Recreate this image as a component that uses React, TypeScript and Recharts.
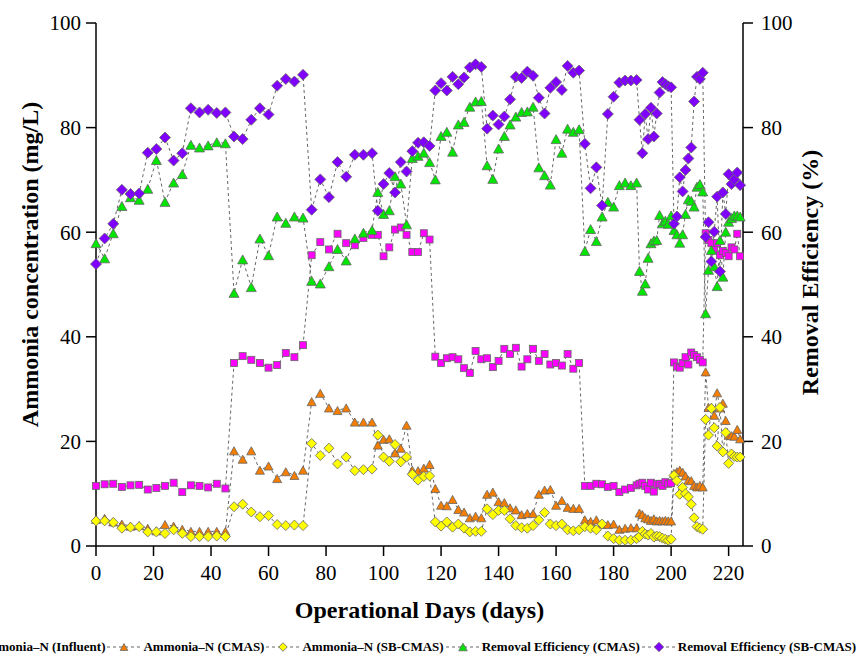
import { LineChart, Line, XAxis, YAxis } from 'recharts'

const FONT = '"Liberation Serif", "Times New Roman", serif'

// operating day of each sample
const days = [
  0, 3, 6, 9, 12, 15, 18, 21, 24, 27, 30, 33, 36, 39, 42, 45, 48, 51, 54, 57, 60, 63, 66, 69, 72, 75, 78, 81, 84, 87, 90, 93, 96,
  98, 100, 102, 104, 106, 108, 110, 112, 114, 116, 118, 120, 122, 124, 126, 128, 130, 132, 134, 136, 138, 140, 142, 144, 146,
  148, 150, 152, 154, 156, 158, 160, 162, 164, 166, 168, 170, 172, 174, 176, 178, 180, 182, 184, 186, 188,
  189, 190, 191, 192, 193, 194, 195, 196, 197, 198, 199, 200, 201, 202, 203, 204, 205, 206, 207, 208, 209, 210, 211,
  212, 213, 214, 215, 216, 217, 218, 219, 220, 221, 222, 223, 224,
]

// ammonia-N, mg/L
const influent = [
  11.5, 11.8, 11.9, 11.3, 11.6, 11.7, 10.8, 11.1, 11.5, 12.1, 10.3, 11.6, 11.5, 11.2, 11.9, 11.0,
  35.0, 36.3, 35.6, 35.0, 34.1, 34.6, 36.9, 36.1, 38.4, 55.6, 58.1, 56.7, 59.7, 57.9, 57.5, 58.9, 59.5,
  59.5, 55.4, 57.1, 60.5, 60.9, 59.5, 56.2, 56.2, 59.8, 58.6, 36.2, 35.0, 35.9, 36.1, 35.7, 34.0, 33.1, 37.3, 35.7, 35.9,
  34.2, 35.4, 37.7, 36.7, 37.9, 34.3, 35.7, 37.7, 35.4, 36.7, 34.7, 35.0, 34.5, 36.7, 33.9, 35.0,
  11.5, 11.5, 11.9, 11.8, 11.3, 11.5, 10.3, 10.8, 11.1, 11.6,
  11.9, 12.1, 11.5, 10.8, 12.1, 10.4, 11.8, 11.9, 11.5, 12.2, 11.9, 12.0,
  35.1, 34.3, 34.1, 35.0, 36.1, 34.7, 37.0, 36.5, 36.1, 35.6, 35.1,
  59.8, 58.5, 57.9, 56.6, 57.9, 55.6, 56.4, 56.0, 55.4, 57.1, 56.7, 59.7, 55.4,
]

const cmasNH4 = [
  5.1, 5.3, 4.6, 4.2, 3.8, 3.9, 3.4, 2.9, 4.1, 3.8, 3.2, 2.8, 2.8, 2.8, 2.8, 2.8,
  18.2, 16.6, 18.2, 14.5, 15.3, 12.9, 14.2, 13.5, 14.5, 27.6, 29.2, 26.4, 25.9, 26.4, 23.7, 23.7, 23.7,
  19.3, 20.4, 20.5, 17.8, 18.7, 23.1, 14.5, 14.4, 14.9, 15.6, 11.0, 7.8, 7.7, 8.9, 7.0, 6.5, 5.4, 5.7, 5.4, 9.9,
  10.3, 8.5, 8.3, 7.3, 6.9, 6.0, 6.2, 6.2, 9.9, 10.7, 10.8, 7.8, 8.7, 7.4, 7.2, 7.2,
  5.0, 4.7, 5.0, 4.2, 4.1, 4.2, 3.2, 3.4, 3.5, 3.5,
  6.3, 6.0, 5.4, 5.2, 4.9, 5.2, 4.8, 4.9, 4.8, 4.9, 4.8, 4.8,
  13.9, 14.2, 14.5, 14.1, 13.4, 12.6, 12.5, 11.6, 11.3, 11.6, 11.3,
  33.3, 26.5, 26.5, 25.0, 29.3, 26.4, 27.3, 24.0, 21.2, 21.1, 21.0, 22.3, 20.5,
]

const sbcmasNH4 = [
  4.8, 4.8, 4.5, 3.4, 3.6, 3.7, 2.7, 2.7, 2.4, 3.1, 2.4, 1.8, 1.8, 1.8, 1.9, 1.8,
  7.5, 8.0, 6.5, 5.6, 5.8, 4.1, 3.9, 4.0, 3.9, 19.6, 17.3, 18.7, 15.7, 17.0, 14.4, 14.6, 14.7,
  21.2, 17.0, 16.2, 19.4, 16.1, 17.0, 13.7, 12.6, 13.3, 13.4, 4.6, 3.8, 4.6, 3.6, 4.2, 3.4, 2.7, 2.8, 2.8, 7.1,
  6.0, 6.8, 6.8, 5.2, 3.9, 3.5, 3.4, 3.9, 5.0, 6.4, 4.2, 3.9, 4.2, 3.1, 2.9, 3.1,
  3.7, 3.4, 3.1, 4.2, 1.9, 1.4, 1.1, 1.1, 1.1, 1.4,
  1.8, 2.8, 2.3, 2.1, 2.4, 1.7, 1.9, 1.8, 1.5, 1.3, 1.1, 1.3,
  13.5, 12.5, 9.9, 11.2, 10.0, 9.4, 8.0, 5.4, 3.7, 3.4, 3.2,
  24.2, 21.2, 26.3, 22.6, 19.1, 26.5, 18.0, 21.7, 15.8, 17.6, 17.1, 17.0, 17.0,
]

// removal efficiency, %
const reCmas = [
  57.9, 55.0, 59.8, 65.0, 66.7, 66.2, 68.3, 73.8, 65.8, 69.5, 71.1, 76.7, 76.2, 76.6, 77.2, 77.0,
  48.4, 54.8, 49.5, 58.8, 55.6, 63.0, 61.8, 63.0, 62.8, 50.7, 50.2, 53.5, 56.8, 54.6, 58.8, 59.9, 60.4,
  67.7, 63.5, 64.2, 70.7, 69.3, 61.5, 74.2, 74.6, 75.2, 73.4, 70.1, 78.4, 79.2, 75.4, 80.6, 81.1, 84.0, 85.0, 85.1, 72.8,
  70.2, 76.0, 78.4, 80.6, 82.1, 83.0, 83.1, 84.0, 72.4, 70.9, 69.1, 77.8, 75.2, 79.8, 79.2, 79.7,
  56.4, 60.6, 58.3, 63.0, 65.8, 64.9, 69.0, 69.5, 69.0, 69.5,
  52.6, 48.8, 50.2, 55.1, 57.9, 58.4, 58.5, 63.3, 61.7, 62.2, 61.6, 63.2,
  60.4, 59.6, 58.0, 59.6, 63.5, 66.3, 66.0, 64.9, 68.7, 69.2, 67.8,
  44.5, 52.8, 56.6, 53.5, 49.7, 58.5, 51.5, 60.1, 62.0, 62.7, 63.2, 63.2, 63.0,
]

const reSbcmas = [
  53.9, 58.8, 61.6, 68.1, 67.3, 67.4, 75.2, 75.9, 78.1, 73.7, 75.1, 83.7, 82.9, 83.4, 82.8, 82.9,
  78.3, 77.8, 81.5, 83.7, 82.5, 88.0, 89.3, 88.8, 90.1, 64.3, 70.1, 66.7, 73.4, 70.6, 74.8, 74.8, 75.1,
  64.1, 69.2, 71.3, 67.6, 73.4, 71.6, 75.5, 77.1, 77.2, 76.5, 87.1, 88.5, 87.1, 89.7, 88.3, 89.6, 91.5, 92.1, 91.6, 79.8,
  82.3, 80.6, 82.1, 85.4, 89.7, 89.5, 90.7, 89.9, 85.7, 82.7, 87.6, 88.7, 87.2, 91.8, 90.5, 90.9,
  76.9, 68.4, 72.4, 65.1, 82.6, 85.9, 88.6, 89.0, 89.0, 89.1,
  81.5, 75.1, 82.6, 77.8, 83.8, 78.3, 82.7, 86.7, 88.7, 88.3, 87.9, 87.7,
  61.6, 63.0, 70.5, 67.8, 71.9, 74.1, 76.2, 85.0, 89.7, 89.3, 90.5,
  59.1, 61.9, 54.4, 60.1, 66.8, 52.5, 67.6, 63.5, 71.1, 69.2, 70.1, 71.4, 69.0,
]

const xTicks = [0, 20, 40, 60, 80, 100, 120, 140, 160, 180, 200, 220]
const yTicks = [0, 20, 40, 60, 80, 100]
const yMinorTicks = [10, 30, 50, 70, 90]

const chartData = days.map((day, i) => ({
  day,
  influent: influent[i],
  cmas: cmasNH4[i],
  sbcmas: sbcmasNH4[i],
  reCmas: reCmas[i],
  reSbcmas: reSbcmas[i],
}))

type MarkerKind = 'square' | 'triangle' | 'diamond'

interface SeriesDef {
  key: string
  name: string
  kind: MarkerKind
  fill: string
  size: number
  axis: 'left' | 'right'
}

const series: SeriesDef[] = [
  { key: 'influent', name: 'Ammonia–N (Influent)', kind: 'square', fill: '#ff00ff', size: 7, axis: 'left' },
  { key: 'cmas', name: 'Ammonia–N (CMAS)', kind: 'triangle', fill: '#f57d00', size: 9, axis: 'left' },
  { key: 'sbcmas', name: 'Ammonia–N (SB-CMAS)', kind: 'diamond', fill: '#ffff00', size: 10, axis: 'left' },
  { key: 'reCmas', name: 'Removal Efficiency (CMAS)', kind: 'triangle', fill: '#00e600', size: 10, axis: 'right' },
  { key: 'reSbcmas', name: 'Removal Efficiency (SB-CMAS)', kind: 'diamond', fill: '#8000ff', size: 11, axis: 'right' },
]

function Marker({ kind, cx, cy, fill, size }: { kind: MarkerKind; cx: number; cy: number; fill: string; size: number }) {
  const h = size / 2
  const stroke = '#666'
  if (kind === 'square') {
    return <rect x={cx - h} y={cy - h} width={size} height={size} fill={fill} stroke={stroke} strokeWidth={0.8} />
  }
  if (kind === 'triangle') {
    const th = size * 0.9
    return (
      <polygon
        points={`${cx},${cy - th / 2} ${cx - h},${cy + th / 2} ${cx + h},${cy + th / 2}`}
        fill={fill}
        stroke={stroke}
        strokeWidth={0.8}
      />
    )
  }
  return (
    <polygon
      points={`${cx},${cy - h} ${cx + h},${cy} ${cx},${cy + h} ${cx - h},${cy}`}
      fill={fill}
      stroke={stroke}
      strokeWidth={0.8}
    />
  )
}

const makeDot = (s: SeriesDef) => (props: any) => {
  const { cx, cy, index } = props
  if (cx == null || cy == null) return <g key={`${s.key}-${index}`} />
  return (
    <g key={`${s.key}-${index}`}>
      <Marker kind={s.kind} cx={cx} cy={cy} fill={s.fill} size={s.size} />
    </g>
  )
}

const titleStyle = { fontFamily: FONT, fontWeight: 'bold' as const, fontSize: 24, fill: '#000' }

// rotated axis title, placed relative to the axis box
function SideTitle(props: any) {
  const { viewBox, text, offsetX, offsetY } = props
  const vb = viewBox ?? { x: 0, y: 23, width: 96, height: 523 }
  const x = vb.x + offsetX
  const y = vb.y + vb.height / 2 + offsetY
  return (
    <text x={x} y={y} transform={`rotate(-90 ${x} ${y})`} textAnchor="middle" dominantBaseline="central" style={titleStyle}>
      {text}
    </text>
  )
}

function BottomTitle(props: any) {
  const { viewBox, text } = props
  const vb = viewBox ?? { x: 96, y: 546, width: 647, height: 111 }
  return (
    <text x={vb.x + vb.width / 2} y={vb.y + 64} textAnchor="middle" dominantBaseline="central" style={titleStyle}>
      {text}
    </text>
  )
}

function LegendRow() {
  return (
    <div
      style={{
        position: 'absolute',
        left: -60,
        top: 638,
        display: 'flex',
        alignItems: 'center',
        whiteSpace: 'nowrap',
        fontFamily: FONT,
        fontWeight: 'bold',
        fontSize: 13,
        height: 18,
      }}
    >
      {series.map((s) => (
        <div key={s.key} style={{ display: 'flex', alignItems: 'center' }}>
          <svg width={38} height={18}>
            <line x1={2} x2={36} y1={9} y2={9} stroke="#666" strokeDasharray="3 3" />
            <Marker kind={s.kind} cx={19} cy={9} fill={s.fill} size={s.size * 0.85} />
          </svg>
          <span>{s.name}</span>
        </div>
      ))}
    </div>
  )
}

const tickStyle = { fontFamily: FONT, fontSize: 21, fill: '#000' }
const axisLine = { stroke: '#000', strokeWidth: 1.5 }
const tickLine = { stroke: '#000', strokeWidth: 1.5 }

export default function App() {
  return (
    <div style={{ position: 'absolute', left: 0, top: 0, width: 860, height: 657, overflow: 'hidden', background: '#fff' }}>
      <LineChart width={860} height={657} data={chartData} margin={{ top: 23, right: 0, bottom: 0, left: 0 }}>
        <XAxis
          xAxisId="bottom"
          dataKey="day"
          type="number"
          domain={[0, 225]}
          ticks={xTicks}
          interval={0}
          height={111}
          tickSize={10}
          tickMargin={9}
          tick={tickStyle}
          axisLine={axisLine}
          tickLine={tickLine}
          label={<BottomTitle text="Operational Days (days)" />}
        />
        <XAxis
          xAxisId="top"
          orientation="top"
          dataKey="day"
          type="number"
          domain={[0, 225]}
          ticks={xTicks}
          interval={0}
          height={0}
          mirror
          tickSize={7}
          tickFormatter={() => ''}
          axisLine={axisLine}
          tickLine={tickLine}
        />
        <YAxis
          yAxisId="left"
          domain={[0, 100]}
          ticks={yTicks}
          interval={0}
          width={96}
          tickSize={10}
          tickMargin={5}
          tick={tickStyle}
          axisLine={axisLine}
          tickLine={tickLine}
          label={<SideTitle text="Ammonia concentration (mg/L)" offsetX={30} offsetY={-20} />}
        />
        <YAxis
          yAxisId="leftMinor"
          domain={[0, 100]}
          ticks={yMinorTicks}
          interval={0}
          width={0}
          tickSize={6}
          tickFormatter={() => ''}
          axisLine={false}
          tickLine={tickLine}
        />
        <YAxis
          yAxisId="right"
          orientation="right"
          domain={[0, 100]}
          ticks={yTicks}
          interval={0}
          width={117}
          tickSize={10}
          tickMargin={8}
          tick={{ ...tickStyle, textAnchor: 'start' }}
          axisLine={axisLine}
          tickLine={tickLine}
          label={<SideTitle text="Removal Efficiency (%)" offsetX={67} offsetY={-12} />}
        />
        <YAxis
          yAxisId="rightMinor"
          orientation="right"
          domain={[0, 100]}
          ticks={yMinorTicks}
          interval={0}
          width={0}
          tickSize={6}
          tickFormatter={() => ''}
          axisLine={false}
          tickLine={tickLine}
        />
        {series.map((s) => (
          <Line
            key={s.key}
            xAxisId="bottom"
            yAxisId={s.axis}
            dataKey={s.key}
            name={s.name}
            type="linear"
            stroke="#666"
            strokeWidth={1}
            strokeDasharray="3 3"
            dot={makeDot(s)}
            activeDot={false}
            isAnimationActive={false}
          />
        ))}
      </LineChart>
      <LegendRow />
    </div>
  )
}
